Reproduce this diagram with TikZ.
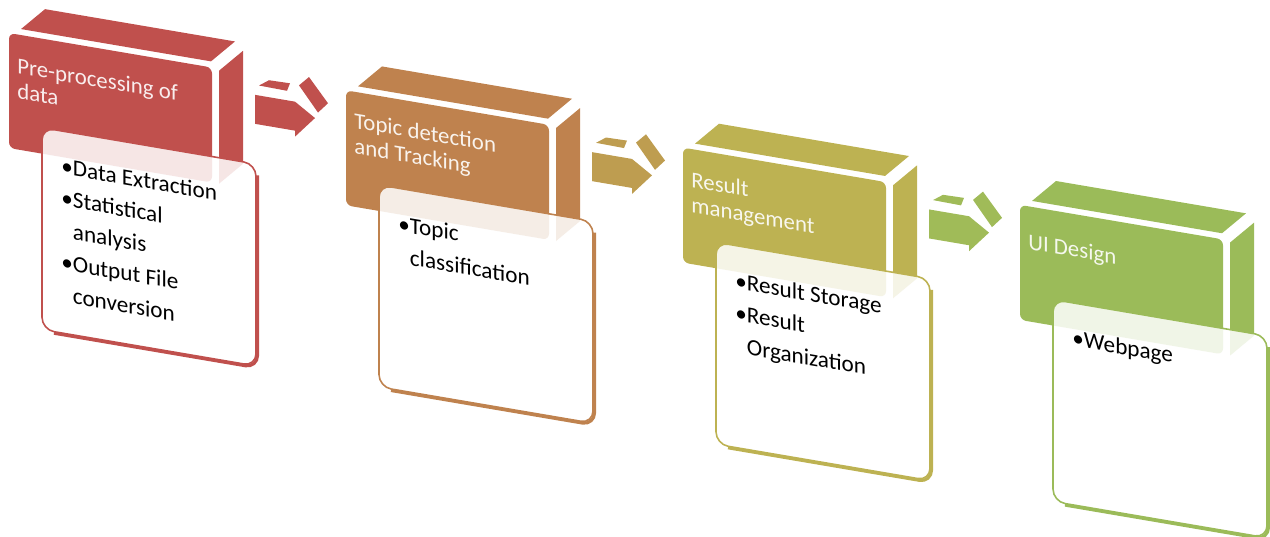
\documentclass[tikz,border=0pt]{standalone}
\usepackage{fontspec}
\setmainfont{Carlito}

\definecolor{redStep}{RGB}{192,80,77}
\definecolor{brownStep}{RGB}{191,130,78}
\definecolor{oliveStep}{RGB}{189,178,82}
\definecolor{greenStep}{RGB}{155,187,89}
\definecolor{goldArrow}{RGB}{190,157,80}
\definecolor{limeArrow}{RGB}{160,187,88}

\begin{document}
\begin{tikzpicture}[
  x=0.02cm, y=-0.02cm,
  card/.style={fill=white, fill opacity=0.86, draw=#1, line width=0.9pt, rounded corners=7pt},
  rim/.style={draw=#1, line width=1.8pt, rounded corners=7pt},
  heading/.style={anchor=west, align=left, inner sep=0pt, transform shape,
    text=white!90!#1, font=\fontsize{13}{14.4}\selectfont},
  items/.style={anchor=base west, inner sep=0pt, transform shape,
    font=\fontsize{13.2}{18.2}\selectfont}
]
\useasboundingbox (0,0) rectangle (1270,537);

\begin{scope}[yslant=-0.17, shift={(9,31.5)}]
% stages: top and side of the block, front face, then the list card
\foreach \col/\hy/\head/\list [count=\i from 0] in {
    redStep/44/{Pre-processing of\\data}/{\textbullet&Data Extraction\\ \textbullet&Statistical\\&analysis\\ \textbullet&Output File\\&conversion},
    brownStep/43/{Topic detection\\and Tracking}/{\textbullet&Topic\\&classification},
    oliveStep/45/{Result\\management}/{\textbullet&Result Storage\\ \textbullet&Result\\&Organization},
    greenStep/37/{UI Design}/{\textbullet&Webpage}}
{
  \begin{scope}[shift={(\i*337,0)}]
    \fill[\col] (12,-6) -- (202,-6) -- (226,-30) -- (36,-30) -- cycle;
    \fill[\col] (210,2) -- (234,-22) -- (234,91) -- (210,115) -- cycle;
    \fill[\col, rounded corners=3.4pt] (0,0) rectangle (203,115);
    \node[heading=\col] (head\i) at (8,\hy) {\head};
    \draw[rim=\col] (248.5,100) -- (248.5,292.5) -- (45,292.5);
    \draw[card=\col] (33,89) rectangle (247,291);
    \node[items] (list\i) at (52,132) {\begin{tabular}[t]{@{}l@{}l@{}}\list\end{tabular}};
  \end{scope}
}

% block arrows between the stages
\foreach \acol [count=\i from 0] in {redStep,goldArrow,limeArrow}
{
  \begin{scope}[shift={(\i*337+246,20)}]
    \fill[\acol] (0,0) -- (40,0) -- (60,13) -- (40,35) -- (40,29) -- (0,29) -- cycle;
    \fill[\acol] (4,-10) -- (14,-17) -- (35,-17.5) -- (32,-9.5) -- cycle;
    \fill[\acol] (44,-17) -- (54,-27) -- (73,-4) -- (63,7) -- cycle;
  \end{scope}
}
\end{scope}
\end{tikzpicture}
\end{document}
